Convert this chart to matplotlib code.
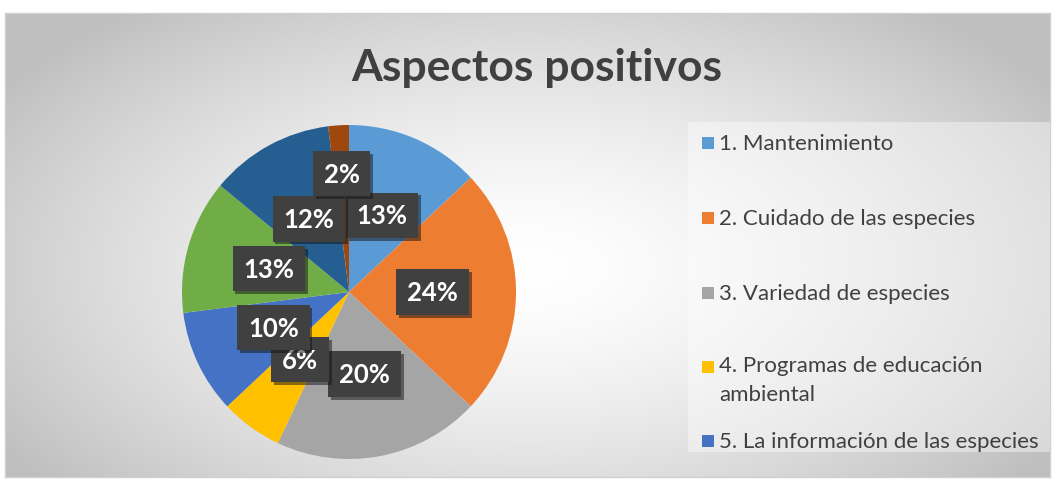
import numpy as np
import matplotlib
matplotlib.use('Agg')
from matplotlib import pyplot as plt
from matplotlib.patches import Rectangle
import matplotlib.patheffects as pe

# DATA
values = [13, 24, 20, 6, 10, 13, 12, 2]
pct_labels = ['13%', '24%', '20%', '6%', '10%', '13%', '12%', '2%']
legend_labels = ['1. Mantenimiento', '2. Cuidado de las especies', '3. Variedad de especies',
                 '4. Programas de educación\nambiental', '5. La información de las especies']
colors = ['#5B9BD5', '#ED7D31', '#A5A5A5', '#FFC000', '#4472C4', '#70AD47', '#255E91', '#9E480E']
title = 'Aspectos positivos'

plt.rcParams['font.family'] = ['Lato', 'DejaVu Sans']

W, H = 1055, 481
fig = plt.figure(figsize=(W / 100, H / 100), dpi=100)
fig.patch.set_facecolor('white')

# background with radial gradient inside the chart frame
bx0, by0, bx1, by1 = 5, 14, 1050, 478
bg = fig.add_axes([bx0 / W, 1 - by1 / H, (bx1 - bx0) / W, (by1 - by0) / H])
yy, xx = np.mgrid[0:1:300j, 0:1:600j]
r = np.sqrt(((xx - 0.5) / 0.6) ** 2 + ((yy - 0.45) / 0.72) ** 2)
shade = 1 - 0.25 * np.clip(r, 0, 1) ** 1.5
bg.imshow(np.dstack([shade] * 3), aspect='auto', extent=[0, 1, 0, 1], origin='lower')
bg.set_xticks([])
bg.set_yticks([])
for s in bg.spines.values():
    s.set_color('#d0d0d0')
    s.set_linewidth(1)

# title
fig.text(537 / W, 1 - 68 / H, title, ha='center', va='center', fontsize=32,
         fontweight='bold', color='#404040')

# pie
cx, cy, R = 349, 293, 167
ax = fig.add_axes([(cx - R) / W, (H - cy - R) / H, 2 * R / W, 2 * R / H])
wedges, _ = ax.pie(values, colors=colors, startangle=90, counterclock=False,
                   radius=1, labels=None, wedgeprops=dict(linewidth=0))
ax.set_xlim(-1, 1)
ax.set_ylim(-1, 1)
ax.set_aspect('equal')

# percentage labels in dark boxes
dist = [0.5] * len(values)
dist[-1] = 0.71
for w, lab, d in zip(wedges, pct_labels, dist):
    ang = np.deg2rad((w.theta1 + w.theta2) / 2)
    t = ax.text(d * np.cos(ang), d * np.sin(ang), lab, ha='center', va='center',
                fontsize=18.5, fontweight='bold', color='white',
                bbox=dict(boxstyle='square,pad=0.42', facecolor='#404040', edgecolor='none'))
    t.get_bbox_patch().set_path_effects([pe.SimplePatchShadow(offset=(2, -2), alpha=0.5),
                                         pe.Normal()])

# legend (only the visible entries)
lx0, ly0, lx1, ly1 = 688, 123, 1050, 453
fig.add_artist(Rectangle((lx0 / W, 1 - ly1 / H), (lx1 - lx0) / W, (ly1 - ly0) / H,
                         transform=fig.transFigure, facecolor='white', alpha=0.4,
                         edgecolor='none'))
row_y = [144, 219, 294, 368, 442]
for lab, col, y in zip(legend_labels, colors, row_y):
    fig.add_artist(Rectangle((702 / W, 1 - (y + 6) / H), 12 / W, 12 / H,
                             transform=fig.transFigure, facecolor=col, edgecolor='none'))
    if '\n' in lab:
        fig.text(719 / W, 1 - (y - 12) / H, lab, ha='left', va='top',
                 fontsize=16, color='#404040', linespacing=1.55)
    else:
        fig.text(719 / W, 1 - y / H, lab, ha='left', va='center',
                 fontsize=16, color='#404040')

fig.savefig('out.png', dpi=100)
